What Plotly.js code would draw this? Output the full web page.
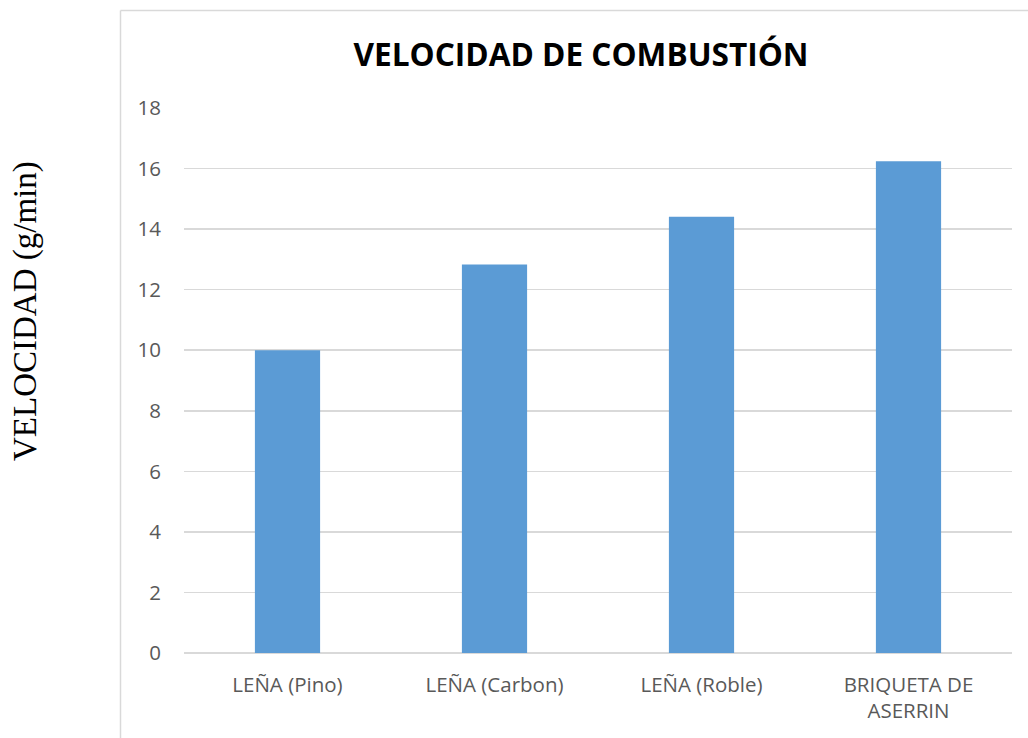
<!DOCTYPE html>
<html>
<head>
<meta charset="utf-8">
<script src="https://cdn.plot.ly/plotly-3.0.1.min.js"></script>
<style>html,body{margin:0;padding:0;background:#fff;}#chart{width:1028px;height:738px;}</style>
</head>
<body>
<div id="chart"></div>
<script>
const categories = ["LEÑA (Pino)", "LEÑA (Carbon)", "LEÑA (Roble)", "BRIQUETA DE<br>ASERRIN"];
const velocidad = [10.0, 12.83, 14.41, 16.24];
const yTicks = [0, 2, 4, 6, 8, 10, 12, 14, 16, 18];
const chartTitle = "VELOCIDAD DE COMBUSTIÓN";
const yTitle = "VELOCIDAD (g/min)";

const W = 1028, H = 738;
const m = {l: 184, r: 16, t: 108, b: 85};
const pw = W - m.l - m.r, ph = H - m.t - m.b;
const px = x => (x - m.l) / pw;
const py = y => (H - m.b - y) / ph;

const trace = {
  type: "bar",
  x: categories,
  y: velocidad,
  width: 0.315,
  marker: {color: "#5B9BD5", line: {width: 0}},
  hoverinfo: "x+y"
};

const layout = {
  width: W, height: H,
  margin: m,
  paper_bgcolor: "#fff", plot_bgcolor: "#fff",
  showlegend: false,
  font: {family: "Open Sans, sans-serif", color: "#595959", size: 20.5},
  title: {
    text: "<b>" + chartTitle + "</b>",
    font: {family: "Open Sans, sans-serif", size: 31.6, color: "#000"},
    xref: "container", yref: "container",
    x: 581 / W, y: 1 - 55 / H, xanchor: "center", yanchor: "middle"
  },
  xaxis: {
    type: "category",
    showline: false, ticks: "", showgrid: false,
    tickfont: {size: 20.5, color: "#595959"},
    ticklabelstandoff: 17
  },
  yaxis: {
    range: [0, 18], tickvals: yTicks, ticktext: yTicks.map(String),
    showgrid: true, gridcolor: "#D9D9D9", gridwidth: 1.5,
    zeroline: true, zerolinecolor: "#D9D9D9", zerolinewidth: 1.5,
    showline: false, ticks: "",
    tickfont: {size: 20.5, color: "#595959"},
    ticklabelstandoff: 22
  },
  annotations: [{
    text: yTitle, textangle: -90, showarrow: false,
    xref: "paper", yref: "paper",
    x: px(25), y: py(311), xanchor: "center", yanchor: "middle",
    font: {family: "Liberation Serif, Times New Roman, serif", size: 33, color: "#000"}
  }],
  shapes: [
    {type: "line", xref: "paper", yref: "paper", x0: px(120.5), x1: px(120.5), y0: py(10.5), y1: py(740), line: {color: "#D9D9D9", width: 1.5}},
    {type: "line", xref: "paper", yref: "paper", x0: px(120.5), x1: px(1030), y0: py(10.5), y1: py(10.5), line: {color: "#D9D9D9", width: 1.5}}
  ]
};

Plotly.newPlot("chart", [trace], layout, {displayModeBar: false, staticPlot: true});
</script>
</body>
</html>
